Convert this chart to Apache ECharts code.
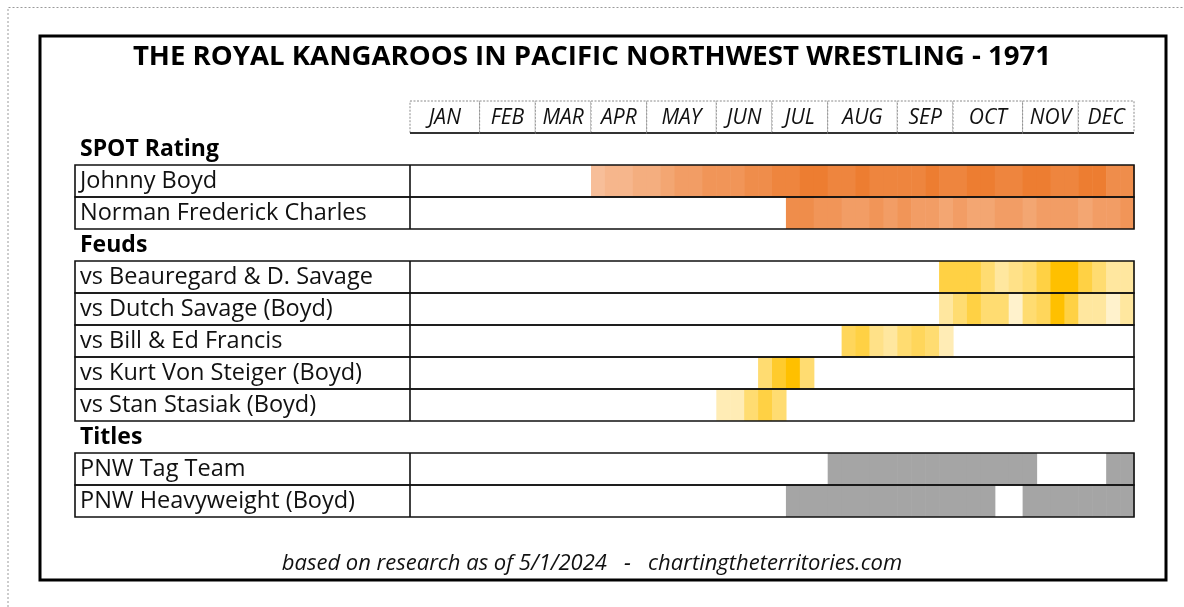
<!DOCTYPE html>
<html>
<head>
<meta charset="utf-8">
<script src="https://cdn.jsdelivr.net/npm/echarts@6/dist/echarts.min.js"></script>
<style>
  html, body { margin: 0; padding: 0; background: #fff; }
  #main { width: 1184px; height: 607px; }
</style>
</head>
<body>
<div id="main"></div>
<script>
// month header: 52 weekly columns
var months = ['JAN', 'FEB', 'MAR', 'APR', 'MAY', 'JUN', 'JUL', 'AUG', 'SEP', 'OCT', 'NOV', 'DEC'];
var monthWeeks = [5, 4, 4, 4, 5, 4, 4, 5, 4, 5, 4, 4];

// rows (0 = month header row)
var rowNames = ['', 'SPOT Rating', 'Johnny Boyd', 'Norman Frederick Charles', 'Feuds',
  'vs Beauregard & D. Savage', 'vs Dutch Savage (Boyd)', 'vs Bill & Ed Francis',
  'vs Kurt Von Steiger (Boyd)', 'vs Stan Stasiak (Boyd)', 'Titles',
  'PNW Tag Team', 'PNW Heavyweight (Boyd)'];
var sectionRows = ['SPOT Rating', 'Feuds', 'Titles'];

// SPOT rating (1..10) by week, from a start week
var johnnyStart = 13;
var johnnyRating = [2, 3, 3, 4, 4, 5, 6, 6, 7, 7, 7, 8, 8, 9, 9, 10, 10, 9, 9, 10,
  9, 9, 9, 9, 10, 9, 9, 10, 10, 9, 9, 10, 10, 9, 9, 10, 10, 8, 8];
var normanStart = 27;
var normanRating = [8, 8, 7, 7, 6, 6, 7, 6, 7, 6, 6, 5, 6, 5, 5, 6, 6, 5, 6, 6, 6, 5, 6, 6, 7];

// feud heat (1..10) by week
var beauStart = 38;
var beauHeat = [7, 7, 7, 5, 3, 4, 5, 7, 10, 10, 7, 5, 3, 3];
var dutchStart = 38;
var dutchHeat = [3, 5, 7, 5, 5, 1, 5, 6, 10, 7, 3, 3, 1, 3];
var francisStart = 31;
var francisHeat = [6, 7, 4, 3, 5, 6, 5, 2];
var kurtStart = 25;
var kurtHeat = [5, 8, 10, 5];
var stasiakStart = 22;
var stasiakHeat = [2, 2, 5, 7, 5];

// title reigns as [first week, last week]
var tagTeamSpans = [[30, 44], [50, 51]];
var heavyweightSpans = [[27, 41], [44, 51]];

var FONT = 'Open Sans';

function rowOf(name) { return rowNames.indexOf(name); }

function weekCells(start, values, row) {
  return values.map(function (v, i) { return [start + i, row, v]; });
}
function spanCells(spans, row) {
  var out = [];
  spans.forEach(function (s) {
    for (var w = s[0]; w <= s[1]; w++) out.push([w, row, 1]);
  });
  return out;
}

var spotData = weekCells(johnnyStart, johnnyRating, rowOf('Johnny Boyd'))
  .concat(weekCells(normanStart, normanRating, rowOf('Norman Frederick Charles')));
var feudData = weekCells(beauStart, beauHeat, rowOf('vs Beauregard & D. Savage'))
  .concat(weekCells(dutchStart, dutchHeat, rowOf('vs Dutch Savage (Boyd)')))
  .concat(weekCells(francisStart, francisHeat, rowOf('vs Bill & Ed Francis')))
  .concat(weekCells(kurtStart, kurtHeat, rowOf('vs Kurt Von Steiger (Boyd)')))
  .concat(weekCells(stasiakStart, stasiakHeat, rowOf('vs Stan Stasiak (Boyd)')));
var titleData = spanCells(tagTeamSpans, rowOf('PNW Tag Team'))
  .concat(spanCells(heavyweightSpans, rowOf('PNW Heavyweight (Boyd)')));

var monthData = [];
var acc = 0;
months.forEach(function (m, i) {
  monthData.push([acc, acc + monthWeeks[i], 0]);
  acc += monthWeeks[i];
});

var frameRows = [];
rowNames.forEach(function (n, i) {
  if (i > 0 && sectionRows.indexOf(n) < 0) frameRows.push([i]);
});

var LABEL_W = 335;

function cellItem(params, api) {
  var p = api.coord([api.value(0), api.value(1)]);
  var w = api.size([1, 0])[0];
  var h = api.size([0, 1])[1];
  return {
    type: 'rect',
    shape: { x: p[0], y: p[1] - h / 2, width: w + 0.6, height: h },
    style: { fill: api.visual('color') }
  };
}

function frameItem(params, api) {
  var row = api.value(0);
  var a = api.coord([0, row]);
  var b = api.coord([52, row]);
  var h = api.size([0, 1])[1];
  var y = a[1] - h / 2;
  return {
    type: 'group',
    children: [
      { type: 'rect', shape: { x: a[0] - LABEL_W, y: y, width: b[0] - a[0] + LABEL_W, height: h },
        style: { fill: 'none', stroke: '#111', lineWidth: 1.6 } },
      { type: 'line', shape: { x1: a[0], y1: y, x2: a[0], y2: y + h },
        style: { stroke: '#111', lineWidth: 1.6 } }
    ]
  };
}

function monthItem(params, api) {
  var a = api.coord([api.value(0), 0]);
  var b = api.coord([api.value(1), 0]);
  var h = api.size([0, 1])[1];
  var y = a[1] - h / 2;
  return {
    type: 'group',
    children: [
      { type: 'rect', shape: { x: a[0], y: y, width: b[0] - a[0], height: h },
        style: { fill: '#fff', stroke: '#8a8a8a', lineWidth: 1, lineDash: [2, 1.5] } },
      { type: 'line', shape: { x1: a[0], y1: y + h, x2: b[0], y2: y + h },
        style: { stroke: '#333', lineWidth: 2 } },
      { type: 'text', x: (a[0] + b[0]) / 2, y: a[1] + 1,
        style: { text: months[params.dataIndex], fontFamily: FONT, fontStyle: 'italic',
          fontSize: 21, fill: '#111', align: 'center', verticalAlign: 'middle' } }
    ]
  };
}

var chart = echarts.init(document.getElementById('main'));

var option = {
  backgroundColor: '#fff',
  animation: false,
  title: [
    {
      text: 'THE ROYAL KANGAROOS IN PACIFIC NORTHWEST WRESTLING - 1971',
      left: 'center', top: 38,
      textStyle: { fontFamily: FONT, fontWeight: 'bold', fontSize: 27.6, color: '#000' }
    },
    {
      text: 'based on research as of 5/1/2024   -   chartingtheterritories.com',
      left: 'center', top: 548,
      textStyle: { fontFamily: FONT, fontStyle: 'italic', fontWeight: 'normal', fontSize: 22, color: '#111' }
    }
  ],
  grid: { left: 410, top: 101, width: 724, height: 416 },
  xAxis: { type: 'value', min: 0, max: 52, show: false },
  yAxis: {
    type: 'category',
    data: rowNames,
    inverse: true,
    axisLine: { show: false },
    axisTick: { show: false },
    splitLine: { show: false },
    axisLabel: {
      align: 'left',
      margin: 330,
      formatter: function (v) {
        return sectionRows.indexOf(v) >= 0 ? '{h|' + v + '}' : '{n|' + v + '}';
      },
      rich: {
        h: { fontFamily: FONT, fontWeight: 'bold', fontSize: 23, color: '#000' },
        n: { fontFamily: FONT, fontSize: 23.5, color: '#111' }
      }
    }
  },
  visualMap: [
    { show: false, seriesIndex: 0, dimension: 2, min: 1, max: 10,
      inRange: { color: ['#f8c6a6', '#ed7d31'] } },
    { show: false, seriesIndex: 1, dimension: 2, min: 1, max: 10,
      inRange: { color: ['#fff2cc', '#ffc000'] } }
  ],
  graphic: [
    { type: 'polyline', silent: true,
      shape: { points: [[8, 607], [8, 7.5], [1184, 7.5]] },
      style: { fill: 'none', stroke: '#9a9a9a', lineWidth: 1, lineDash: [2, 2] } },
    { type: 'rect', silent: true,
      shape: { x: 40, y: 36, width: 1126, height: 544 },
      style: { fill: 'none', stroke: '#000', lineWidth: 3 } }
  ],
  series: [
    { name: 'SPOT', type: 'custom', renderItem: cellItem, data: spotData, clip: false },
    { name: 'Feuds', type: 'custom', renderItem: cellItem, data: feudData, clip: false },
    { name: 'Titles', type: 'custom', renderItem: cellItem, data: titleData, clip: false,
      itemStyle: { color: '#a5a5a5' } },
    { name: 'Months', type: 'custom', renderItem: monthItem, data: monthData, clip: false },
    { name: 'Frames', type: 'custom', renderItem: frameItem, data: frameRows, clip: false, z: 5 }
  ]
};

chart.setOption(option);
</script>
</body>
</html>
